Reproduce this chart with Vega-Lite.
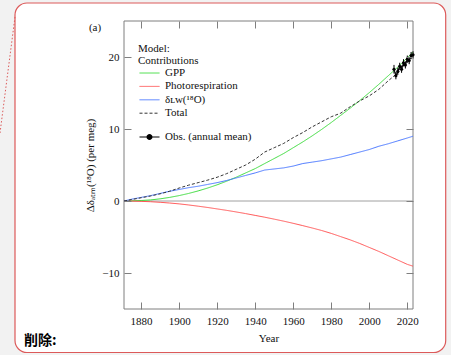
{
  "$schema": "https://vega.github.io/schema/vega-lite/v6.json",
  "width": 289,
  "height": 288,
  "autosize": "none",
  "padding": {"left": 124, "top": 21, "right": 38, "bottom": 46},
  "background": "#f2f2f2",
  "config": {
    "view": {"stroke": null},
    "font": "Liberation Serif",
    "axis": {
      "labelFont": "Liberation Serif", "titleFont": "Liberation Serif",
      "labelFontSize": 11, "titleFontSize": 11, "titleFontWeight": 400,
      "labelColor": "#111111", "titleColor": "#111111",
      "tickColor": "#7f7f7f", "tickWidth": 1, "tickSize": -7,
      "grid": false, "domain": false
    },
    "legend": {
      "labelFont": "Liberation Serif", "titleFont": "Liberation Serif",
      "labelFontSize": 11, "titleFontSize": 11, "titleFontWeight": 400,
      "labelColor": "#111111", "titleColor": "#111111",
      "padding": 0, "rowPadding": 1.4, "symbolStrokeWidth": 1
    }
  },
  "resolve": {"axis": {"x": "independent", "y": "independent"}},
  "datasets": {
    "one": [{}],
    "model": [
      {"year": 1871, "series": "GPP", "value": 0}, {"year": 1875, "series": "GPP", "value": 0.02}, {"year": 1880, "series": "GPP", "value": 0.07}, {"year": 1885, "series": "GPP", "value": 0.15},
      {"year": 1890, "series": "GPP", "value": 0.3}, {"year": 1895, "series": "GPP", "value": 0.5}, {"year": 1900, "series": "GPP", "value": 0.75}, {"year": 1905, "series": "GPP", "value": 1.05},
      {"year": 1910, "series": "GPP", "value": 1.4}, {"year": 1915, "series": "GPP", "value": 1.8}, {"year": 1920, "series": "GPP", "value": 2.25}, {"year": 1925, "series": "GPP", "value": 2.75},
      {"year": 1930, "series": "GPP", "value": 3.3}, {"year": 1935, "series": "GPP", "value": 3.9}, {"year": 1940, "series": "GPP", "value": 4.5}, {"year": 1945, "series": "GPP", "value": 5.2},
      {"year": 1950, "series": "GPP", "value": 5.9}, {"year": 1955, "series": "GPP", "value": 6.6}, {"year": 1960, "series": "GPP", "value": 7.4}, {"year": 1965, "series": "GPP", "value": 8.2},
      {"year": 1970, "series": "GPP", "value": 9.05}, {"year": 1975, "series": "GPP", "value": 9.95}, {"year": 1980, "series": "GPP", "value": 10.9}, {"year": 1985, "series": "GPP", "value": 11.9},
      {"year": 1990, "series": "GPP", "value": 12.9}, {"year": 1995, "series": "GPP", "value": 13.95}, {"year": 2000, "series": "GPP", "value": 15.05}, {"year": 2005, "series": "GPP", "value": 16.2},
      {"year": 2010, "series": "GPP", "value": 17.4}, {"year": 2015, "series": "GPP", "value": 18.6}, {"year": 2020, "series": "GPP", "value": 19.9}, {"year": 2023, "series": "GPP", "value": 20.7},

      {"year": 1871, "series": "Photorespiration", "value": 0}, {"year": 1875, "series": "Photorespiration", "value": -0.01}, {"year": 1880, "series": "Photorespiration", "value": -0.05}, {"year": 1885, "series": "Photorespiration", "value": -0.1},
      {"year": 1890, "series": "Photorespiration", "value": -0.18}, {"year": 1895, "series": "Photorespiration", "value": -0.28}, {"year": 1900, "series": "Photorespiration", "value": -0.4}, {"year": 1905, "series": "Photorespiration", "value": -0.55},
      {"year": 1910, "series": "Photorespiration", "value": -0.72}, {"year": 1915, "series": "Photorespiration", "value": -0.9}, {"year": 1920, "series": "Photorespiration", "value": -1.1}, {"year": 1925, "series": "Photorespiration", "value": -1.3},
      {"year": 1930, "series": "Photorespiration", "value": -1.52}, {"year": 1935, "series": "Photorespiration", "value": -1.75}, {"year": 1940, "series": "Photorespiration", "value": -2.0}, {"year": 1945, "series": "Photorespiration", "value": -2.25},
      {"year": 1950, "series": "Photorespiration", "value": -2.52}, {"year": 1955, "series": "Photorespiration", "value": -2.8}, {"year": 1960, "series": "Photorespiration", "value": -3.1}, {"year": 1965, "series": "Photorespiration", "value": -3.42},
      {"year": 1970, "series": "Photorespiration", "value": -3.75}, {"year": 1975, "series": "Photorespiration", "value": -4.1}, {"year": 1980, "series": "Photorespiration", "value": -4.5}, {"year": 1985, "series": "Photorespiration", "value": -4.95},
      {"year": 1990, "series": "Photorespiration", "value": -5.4}, {"year": 1995, "series": "Photorespiration", "value": -5.9}, {"year": 2000, "series": "Photorespiration", "value": -6.45}, {"year": 2005, "series": "Photorespiration", "value": -7.0},
      {"year": 2010, "series": "Photorespiration", "value": -7.6}, {"year": 2015, "series": "Photorespiration", "value": -8.2}, {"year": 2020, "series": "Photorespiration", "value": -8.8}, {"year": 2023, "series": "Photorespiration", "value": -9.05},

      {"year": 1871, "series": "δʟᴡ(¹⁸O)", "value": 0}, {"year": 1875, "series": "δʟᴡ(¹⁸O)", "value": 0.25}, {"year": 1880, "series": "δʟᴡ(¹⁸O)", "value": 0.5}, {"year": 1885, "series": "δʟᴡ(¹⁸O)", "value": 0.75},
      {"year": 1890, "series": "δʟᴡ(¹⁸O)", "value": 1.05}, {"year": 1895, "series": "δʟᴡ(¹⁸O)", "value": 1.35}, {"year": 1900, "series": "δʟᴡ(¹⁸O)", "value": 1.6}, {"year": 1905, "series": "δʟᴡ(¹⁸O)", "value": 1.85},
      {"year": 1910, "series": "δʟᴡ(¹⁸O)", "value": 2.05}, {"year": 1915, "series": "δʟᴡ(¹⁸O)", "value": 2.3}, {"year": 1920, "series": "δʟᴡ(¹⁸O)", "value": 2.55}, {"year": 1925, "series": "δʟᴡ(¹⁸O)", "value": 2.85},
      {"year": 1930, "series": "δʟᴡ(¹⁸O)", "value": 3.2}, {"year": 1935, "series": "δʟᴡ(¹⁸O)", "value": 3.55}, {"year": 1940, "series": "δʟᴡ(¹⁸O)", "value": 3.9}, {"year": 1945, "series": "δʟᴡ(¹⁸O)", "value": 4.3},
      {"year": 1950, "series": "δʟᴡ(¹⁸O)", "value": 4.45}, {"year": 1955, "series": "δʟᴡ(¹⁸O)", "value": 4.6}, {"year": 1960, "series": "δʟᴡ(¹⁸O)", "value": 4.85}, {"year": 1965, "series": "δʟᴡ(¹⁸O)", "value": 5.2},
      {"year": 1970, "series": "δʟᴡ(¹⁸O)", "value": 5.4}, {"year": 1975, "series": "δʟᴡ(¹⁸O)", "value": 5.6}, {"year": 1980, "series": "δʟᴡ(¹⁸O)", "value": 5.85}, {"year": 1985, "series": "δʟᴡ(¹⁸O)", "value": 6.1},
      {"year": 1990, "series": "δʟᴡ(¹⁸O)", "value": 6.45}, {"year": 1995, "series": "δʟᴡ(¹⁸O)", "value": 6.8}, {"year": 2000, "series": "δʟᴡ(¹⁸O)", "value": 7.15}, {"year": 2005, "series": "δʟᴡ(¹⁸O)", "value": 7.6},
      {"year": 2010, "series": "δʟᴡ(¹⁸O)", "value": 7.95}, {"year": 2015, "series": "δʟᴡ(¹⁸O)", "value": 8.35}, {"year": 2020, "series": "δʟᴡ(¹⁸O)", "value": 8.75}, {"year": 2023, "series": "δʟᴡ(¹⁸O)", "value": 9.0},

      {"year": 1871, "series": "Total", "value": 0}, {"year": 1875, "series": "Total", "value": 0.2}, {"year": 1880, "series": "Total", "value": 0.45}, {"year": 1885, "series": "Total", "value": 0.7},
      {"year": 1890, "series": "Total", "value": 1.0}, {"year": 1895, "series": "Total", "value": 1.35}, {"year": 1900, "series": "Total", "value": 1.8}, {"year": 1905, "series": "Total", "value": 2.2},
      {"year": 1910, "series": "Total", "value": 2.55}, {"year": 1915, "series": "Total", "value": 2.9}, {"year": 1920, "series": "Total", "value": 3.3}, {"year": 1925, "series": "Total", "value": 3.8},
      {"year": 1930, "series": "Total", "value": 4.4}, {"year": 1935, "series": "Total", "value": 5.0}, {"year": 1940, "series": "Total", "value": 5.8}, {"year": 1945, "series": "Total", "value": 6.8},
      {"year": 1950, "series": "Total", "value": 7.4}, {"year": 1955, "series": "Total", "value": 8.0}, {"year": 1960, "series": "Total", "value": 8.8}, {"year": 1965, "series": "Total", "value": 9.5},
      {"year": 1970, "series": "Total", "value": 10.3}, {"year": 1975, "series": "Total", "value": 11.0}, {"year": 1980, "series": "Total", "value": 11.7}, {"year": 1985, "series": "Total", "value": 12.2},
      {"year": 1990, "series": "Total", "value": 13.1}, {"year": 1995, "series": "Total", "value": 13.9}, {"year": 2000, "series": "Total", "value": 14.6}, {"year": 2005, "series": "Total", "value": 15.5},
      {"year": 2010, "series": "Total", "value": 16.7}, {"year": 2015, "series": "Total", "value": 17.8}, {"year": 2020, "series": "Total", "value": 19.3}, {"year": 2023, "series": "Total", "value": 20.2}
    ],
    "obs": [
      {"year": 2013, "value": 18.3, "lo": 17.7, "hi": 18.9},
      {"year": 2014, "value": 17.4, "lo": 16.9, "hi": 17.9},
      {"year": 2015, "value": 18.0, "lo": 17.5, "hi": 18.5},
      {"year": 2016, "value": 18.7, "lo": 18.2, "hi": 19.2},
      {"year": 2017, "value": 18.3, "lo": 17.8, "hi": 18.8},
      {"year": 2018, "value": 19.2, "lo": 18.7, "hi": 19.7},
      {"year": 2019, "value": 18.9, "lo": 18.4, "hi": 19.4},
      {"year": 2020, "value": 19.7, "lo": 19.2, "hi": 20.2},
      {"year": 2021, "value": 19.5, "lo": 19.0, "hi": 20.0},
      {"year": 2022, "value": 20.2, "lo": 19.7, "hi": 20.7},
      {"year": 2023, "value": 20.3, "lo": 19.8, "hi": 20.8}
    ]
  },
  "layer": [
    {
      "description": "rounded red panel frame behind the figure",
      "data": {"name": "one"},
      "mark": {"type": "rect", "fill": "white", "stroke": "#dc5a5a", "strokeWidth": 1.2, "cornerRadius": 12},
      "encoding": {
        "x": {"datum": 1813.67, "type": "quantitative", "scale": {"domain": [1871, 2023], "nice": false, "zero": false}, "axis": null},
        "x2": {"datum": 2040.2},
        "y": {"datum": 27.5, "type": "quantitative", "scale": {"domain": [-15, 25], "nice": false, "zero": false}, "axis": null},
        "y2": {"datum": -21.04}
      }
    },
    {
      "data": {"name": "one"},
      "mark": {"type": "rule", "stroke": "#dc5a5a", "strokeWidth": 1, "strokeDash": [1.5, 2]},
      "encoding": {
        "x": {"datum": 1813.67, "type": "quantitative", "axis": null},
        "x2": {"datum": 1805.78},
        "y": {"datum": 25.56, "type": "quantitative", "axis": null},
        "y2": {"datum": 9.44}
      }
    },
    {
      "description": "plot frame",
      "data": {"name": "one"},
      "mark": {"type": "rect", "fill": null, "stroke": "#7f7f7f", "strokeWidth": 1},
      "encoding": {
        "x": {"datum": 1871, "type": "quantitative", "axis": null},
        "x2": {"datum": 2023},
        "y": {"datum": -15, "type": "quantitative", "axis": null},
        "y2": {"datum": 25}
      }
    },
    {
      "data": {"name": "one"},
      "mark": {"type": "rule", "stroke": "#a0a0a0", "strokeWidth": 1},
      "encoding": {
        "y": {"datum": 0, "type": "quantitative", "axis": null}
      }
    },
    {
      "data": {"name": "obs"},
      "mark": {"type": "area", "color": "#d9d9d9", "opacity": 0.8},
      "encoding": {
        "x": {"field": "year", "type": "quantitative", "axis": {"orient": "top", "values": [1880, 1900, 1920, 1940, 1960, 1980, 2000, 2020], "labels": false, "title": null, "zindex": 2}},
        "y": {"field": "lo", "type": "quantitative", "axis": {"orient": "right", "values": [-10, 0, 10, 20], "labels": false, "title": null, "zindex": 2}},
        "y2": {"field": "hi"}
      }
    },
    {
      "data": {"name": "model"},
      "mark": {"type": "line", "strokeWidth": 1},
      "encoding": {
        "x": {"field": "year", "type": "quantitative", "axis": {"orient": "bottom", "values": [1880, 1900, 1920, 1940, 1960, 1980, 2000, 2020], "format": "d", "labelPadding": 13, "title": "Year", "titlePadding": 6, "titleFontWeight": 400, "zindex": 2}},
        "y": {"field": "value", "type": "quantitative", "axis": {"orient": "left", "values": [-10, 0, 10, 20], "labelPadding": 12, "title": "Δδₐₜₘ(¹⁸O) (per meg)", "titlePadding": 6, "titleFontWeight": 400, "zindex": 2}},
        "color": {
          "field": "series", "type": "nominal",
          "scale": {"domain": ["GPP", "Photorespiration", "δʟᴡ(¹⁸O)", "Total"], "range": ["#3ddc3d", "#ff5555", "#4a78ff", "#333333"]},
          "legend": {"orient": "none", "legendX": 14, "legendY": 21.5, "title": ["Model:", "Contributions"], "titleLineHeight": 12, "titlePadding": 2, "symbolType": "M-1,0H4", "symbolSize": 64, "labelOffset": 16, "zindex": 2}
        },
        "strokeDash": {
          "field": "series", "type": "nominal",
          "scale": {"domain": ["GPP", "Photorespiration", "δʟᴡ(¹⁸O)", "Total"], "range": [[1, 0], [1, 0], [1, 0], [3, 2]]},
          "legend": {"orient": "none", "legendX": 14, "legendY": 21.5, "title": ["Model:", "Contributions"], "titleLineHeight": 12, "titlePadding": 2, "symbolType": "M-1,0H4", "symbolSize": 64, "labelOffset": 16, "zindex": 2}
        }
      }
    },
    {
      "data": {"name": "obs"},
      "mark": {"type": "rule", "color": "#000000", "strokeWidth": 1},
      "encoding": {
        "x": {"field": "year", "type": "quantitative", "axis": null},
        "y": {"field": "lo", "type": "quantitative", "axis": null},
        "y2": {"field": "hi"}
      }
    },
    {
      "data": {"name": "obs"},
      "mark": {"type": "line", "color": "#000000", "strokeWidth": 1},
      "encoding": {
        "x": {"field": "year", "type": "quantitative", "axis": null},
        "y": {"field": "value", "type": "quantitative", "axis": null}
      }
    },
    {
      "data": {"name": "obs"},
      "mark": {"type": "point", "filled": true, "color": "#000000", "size": 10, "opacity": 1},
      "encoding": {
        "x": {"field": "year", "type": "quantitative", "axis": null},
        "y": {"field": "value", "type": "quantitative", "axis": null}
      }
    },
    {
      "description": "legend entry for the observations",
      "data": {"name": "obs"},
      "mark": {"type": "point", "filled": true, "color": "#000000", "size": 0},
      "encoding": {
        "x": {"field": "year", "type": "quantitative", "axis": null},
        "y": {"field": "value", "type": "quantitative", "axis": null},
        "shape": {
          "datum": "Obs. (annual mean)",
          "scale": {"range": ["M-1,-0.125H4V0.125H-1ZM0.75,0A0.75,0.75,0,1,1,2.25,0A0.75,0.75,0,1,1,0.75,0Z"]},
          "legend": {"orient": "none", "legendX": 14, "legendY": 110.5, "title": null, "symbolSize": 64, "symbolOpacity": 1, "symbolFillColor": "#000000", "labelOffset": 16, "zindex": 2}
        }
      }
    },
    {
      "data": {"name": "one"},
      "mark": {"type": "text", "text": "(a)", "font": "Liberation Serif", "fontSize": 11, "align": "center", "baseline": "middle", "color": "#111111"},
      "encoding": {
        "x": {"datum": 1855.75, "type": "quantitative", "axis": null},
        "y": {"datum": 24.03, "type": "quantitative", "axis": null}
      }
    },
    {
      "data": {"name": "one"},
      "mark": {"type": "text", "text": "削除:", "font": "Noto Sans CJK SC", "fontSize": 14, "fontWeight": "bold", "align": "left", "baseline": "middle", "color": "#000000"},
      "encoding": {
        "x": {"datum": 1818.4, "type": "quantitative", "axis": null},
        "y": {"datum": -19.51, "type": "quantitative", "axis": null}
      }
    }
  ]
}
